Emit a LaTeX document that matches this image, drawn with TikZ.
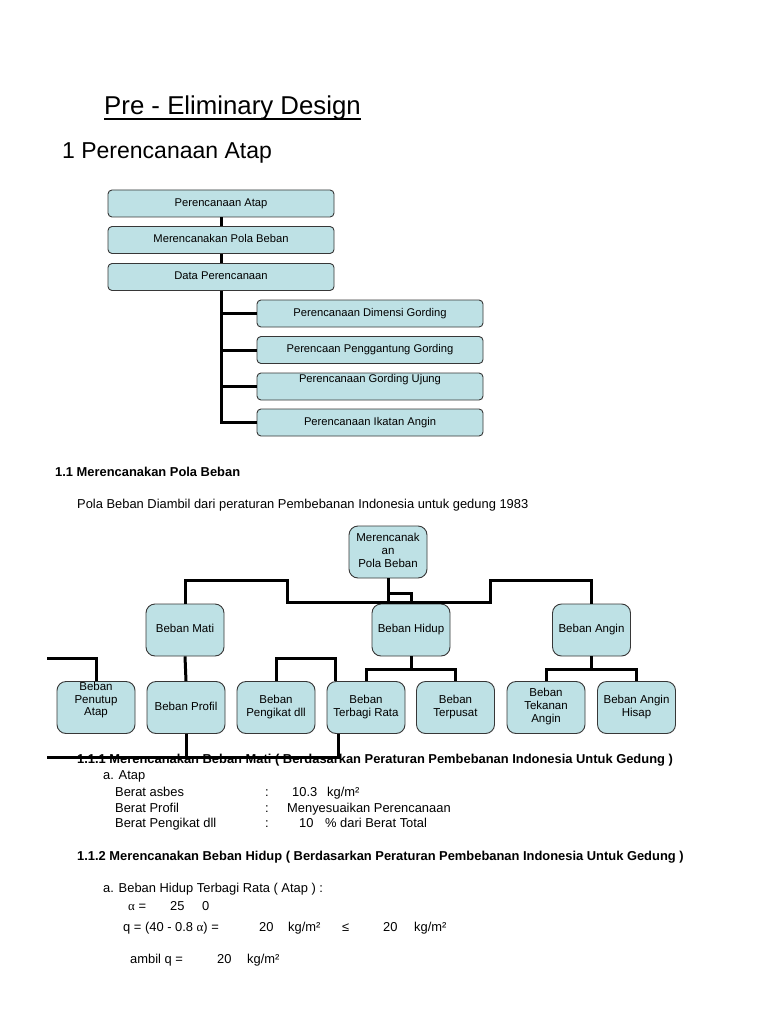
\documentclass[tikz,border=0pt]{standalone}
\usepackage{fontspec}
\setmainfont{Liberation Sans}
\newfontfamily\symf{Liberation Serif}
\usetikzlibrary{calc}
\definecolor{boxfill}{RGB}{190,225,229}
\definecolor{boxline}{RGB}{55,55,55}
\begin{document}
\begin{tikzpicture}[x=1pt,y=-1pt,
  boxA/.style={draw=boxline, line width=0.9pt, fill=boxfill, rounded corners=4pt, minimum width=226pt, minimum height=27pt, inner sep=0pt, font=\fontsize{11.2}{13}\selectfont, execute at begin node=\strut, execute at end node=\strut},
  boxB/.style={draw=boxline, line width=0.9pt, fill=boxfill, rounded corners=9pt, minimum width=78pt, minimum height=52pt, inner sep=0pt, align=center, font=\fontsize{11.5}{12.8}\selectfont, execute at begin node=\strut, execute at end node=\strut},
  btxt/.style={inner sep=0pt, align=center, font=\fontsize{11.5}{12.8}\selectfont},
  conn/.style={line width=3pt},
  txt/.style={anchor=base west, inner sep=0pt, font=\fontsize{12.9}{15}\selectfont},
  hd/.style={anchor=base west, inner sep=0pt, font=\bfseries\fontsize{12.9}{15}\selectfont}]
\fill[white] (0,0) rectangle (768,1024);
\useasboundingbox (0,0) rectangle (768,1024);

% titles
\node[anchor=base west, inner sep=0pt, font=\fontsize{25.8}{30}\selectfont] (title) at (104,115) {Pre - Eliminary Design};
\draw[line width=1.5pt] ([yshift=-4pt]title.base west) -- ([yshift=-4pt]title.base east);
\node[anchor=base west, inner sep=0pt, font=\fontsize{23}{27}\selectfont] (sec1) at (62,159) {1 Perencanaan Atap};

% chart 1
\node[boxA] (a1) at (221,203.5) {Perencanaan Atap};
\node[boxA] (a2) at (221,240) {Merencanakan Pola Beban};
\node[boxA] (a3) at (221,277) {Data Perencanaan};
\node[boxA] (c1) at (370,313.5) {Perencanaan Dimensi Gording};
\node[boxA] (c2) at (370,350) {Perencaan Penggantung Gording};
\node[boxA] (c3) at (370,386.5) {};
\node[inner sep=0pt, font=\fontsize{11.2}{13}\selectfont] (c3t) at (370,380) {\strut Perencanaan Gording Ujung\strut};
\node[boxA] (c4) at (370,422.5) {Perencanaan Ikatan Angin};
\draw[conn] (a1.south) -- (a2.north);
\draw[conn] (a2.south) -- (a3.north);
\draw[conn] (a3.south) -- (a3.south |- c4.west) -- (c4.west);
\draw[conn] (a3.south |- c1.west) -- (c1.west);
\draw[conn] (a3.south |- c2.west) -- (c2.west);
\draw[conn] (a3.south |- c3.west) -- (c3.west);

% section 1.1
\node[hd] (s11) at (55,476) {1.1 Merencanakan Pola Beban};
\node[txt] (s11t) at (77,508) {Pola Beban Diambil dari peraturan Pembebanan Indonesia untuk gedung 1983};

% chart 2
\node[boxB] (mp) at (388,552) {Merencanak\\an\\Pola Beban};
\node[boxB] (bm) at (185,630) {Beban Mati};
\node[boxB] (bh) at (411,630) {Beban Hidup};
\node[boxB] (ba) at (591.5,630) {Beban Angin};
\node[boxB] (bpa) at (96,707.5) {};
\node[btxt] (bpat) at (96,700.5) {\strut Beban\\Penutup\\Atap\strut};
\node[boxB] (bpr) at (186,707.5) {Beban Profil};
\node[boxB] (bpk) at (276,707.5) {Beban\\Pengikat dll};
\node[boxB] (btr) at (366,707.5) {Beban\\Terbagi Rata};
\node[boxB] (btp) at (455.5,707.5) {Beban\\Terpusat};
\node[boxB] (btk) at (546,707.5) {Beban\\Tekanan\\Angin};
\node[boxB] (bah) at (636.5,707.5) {Beban Angin\\Hisap};

\draw[conn] (mp.south) |- (287,602) -- (287,580) -| (bm.north);
\draw[conn] (mp.south) |- (490,602) -- (490,580) -| (ba.north);
\draw[conn] (mp.south) -- ++(0,15) -| (bh.north);
\draw[conn] (bm.south) -- (bpr.north);
\draw[conn] (bh.south) -- ++(0,13) coordinate (hj);
\draw[conn] (btr.north) |- (hj) -| (btp.north);
\draw[conn] (ba.south) -- ++(0,13) coordinate (aj);
\draw[conn] (btk.north) |- (aj) -| (bah.north);

% section 1.1.1
\node[hd] (s111) at (77,763) {1.1.1 Merencanakan Beban Mati ( Berdasarkan Peraturan Pembebanan Indonesia Untuk Gedung )};
\node[txt] (aa) at (103,779) {a. Atap};
\node[txt] (r1a) at (115,796) {Berat asbes};
\node[txt] (r1b) at (265,796) {:};
\node[txt] (r1c) at (292,796) {10.3};
\node[txt] (r1d) at (327,796) {kg/m²};
\node[txt] (r2a) at (115,812) {Berat Profil};
\node[txt] (r2b) at (265,812) {:};
\node[txt] (r2c) at (287,812) {Menyesuaikan Perencanaan};
\node[txt] (r3a) at (115,827) {Berat Pengikat dll};
\node[txt] (r3b) at (265,827) {:};
\node[txt] (r3c) at (299,827) {10};
\node[txt] (r3d) at (325,827) {\% dari Berat Total};

% stray connectors
\coordinate (L1) at (47,658);
\coordinate (K1) at (335,658);
\coordinate (L2) at (47,757);
\coordinate (K2) at (338,757);
\draw[conn] (L1) -| (bpa.north);
\draw[conn] (bpk.north) |- (K1) -- (K1 |- btr.north);
\draw[conn] (bpr.south) -- (bpr.south |- L2);
\draw[conn] (L2) -- (K2) -- (K2 |- btr.south);

% section 1.1.2
\node[hd] (s112) at (77,860) {1.1.2 Merencanakan Beban Hidup ( Berdasarkan Peraturan Pembebanan Indonesia Untuk Gedung )};
\node[txt] (bb) at (103,892) {a. Beban Hidup Terbagi Rata ( Atap ) :};
\node[txt] (al1) at (128,910) {{\symf α} =};
\node[txt] (al2) at (170,910) {25};
\node[txt] (al3) at (202,910) {0};
\node[txt] (q1) at (123,931) {q = (40 - 0.8 {\symf α}) =};
\node[txt] (q2) at (259,931) {20};
\node[txt] (q3) at (288,931) {kg/m²};
\node[txt] (q4) at (342,931) {≤};
\node[txt] (q5) at (383,931) {20};
\node[txt] (q6) at (414,931) {kg/m²};
\node[txt] (m1) at (130,963) {ambil q =};
\node[txt] (m2) at (217,963) {20};
\node[txt] (m3) at (247,963) {kg/m²};
\end{tikzpicture}
\end{document}
